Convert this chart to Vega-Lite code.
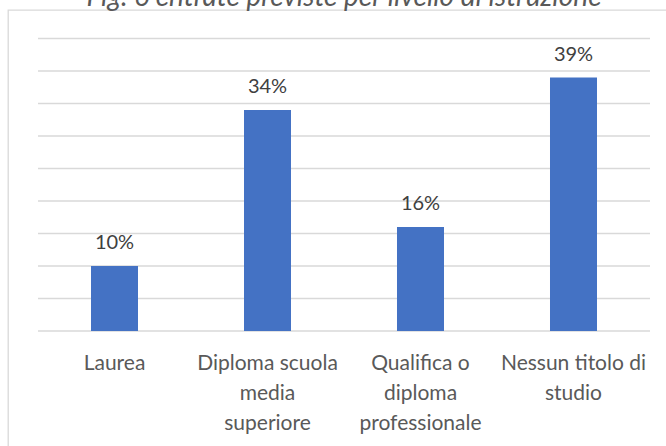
{
  "$schema": "https://vega.github.io/schema/vega-lite/v6.json",
  "autosize": {"type": "none"},
  "width": 672,
  "height": 450,
  "padding": {"left": 8, "top": 10, "right": 0, "bottom": 0},
  "background": "white",
  "config": {"view": {"stroke": "#d9d9d9", "strokeWidth": 1.3}, "font": "Lato"},
  "title": {
    "text": "Fig. 6 entrate previste per livello di istruzione",
    "fontStyle": "italic",
    "fontWeight": "normal",
    "fontSize": 28,
    "color": "#595959",
    "baseline": "alphabetic",
    "offset": 6,
    "anchor": "middle",
    "dx": 0,
    "dy": 30
  },
  "datasets": {
    "bars": [
      {"cat": "Laurea", "value": 0.10},
      {"cat": "Diploma scuola\nmedia\nsuperiore", "value": 0.34},
      {"cat": "Qualifica o\ndiploma\nprofessionale", "value": 0.16},
      {"cat": "Nessun titolo di\nstudio", "value": 0.39}
    ],
    "grid": [
      {"tick": 0}, {"tick": 0.05}, {"tick": 0.10}, {"tick": 0.15}, {"tick": 0.20},
      {"tick": 0.25}, {"tick": 0.30}, {"tick": 0.35}, {"tick": 0.40}, {"tick": 0.45}
    ]
  },
  "layer": [
    {
      "data": {"name": "grid"},
      "mark": {"type": "rule", "color": "#d9d9d9", "strokeWidth": 1.3},
      "encoding": {
        "y": {"field": "tick", "type": "quantitative", "axis": null,
              "scale": {"domain": [-0.19846, 0.49385], "nice": false, "zero": false}},
        "x": {"datum": "Laurea", "type": "nominal", "bandPosition": -1.128,
              "scale": {"domain": ["Laurea", "Diploma scuola\nmedia\nsuperiore", "Qualifica o\ndiploma\nprofessionale", "Nessun titolo di\nstudio"], "paddingInner": 0.6928, "paddingOuter": 0.5425}},
        "x2": {"datum": "Nessun titolo di\nstudio", "bandPosition": 2.128}
      }
    },
    {
      "data": {"name": "bars"},
      "mark": {"type": "bar", "color": "#4472C4"},
      "encoding": {
        "x": {"field": "cat", "type": "nominal", "sort": null,
              "scale": {"domain": ["Laurea", "Diploma scuola\nmedia\nsuperiore", "Qualifica o\ndiploma\nprofessionale", "Nessun titolo di\nstudio"], "paddingInner": 0.6928, "paddingOuter": 0.5425},
              "axis": {"orient": "bottom", "offset": -129, "domain": false, "ticks": false, "labelAngle": 0,
                       "labelAlign": "center",
                       "labelExpr": "split(datum.label, '\\n')", "labelFontSize": 21, "labelColor": "#595959",
                       "labelLineHeight": 30, "labelPadding": 21, "labelBaseline": "top", "labelLimit": 0,
                       "title": null, "grid": false, "labelFont": "Lato"}},
        "y": {"field": "value", "type": "quantitative", "axis": null},
        "y2": {"datum": 0}
      }
    },
    {
      "data": {"name": "bars"},
      "mark": {"type": "text", "dy": -17, "baseline": "alphabetic", "fontSize": 20, "color": "#404040"},
      "encoding": {
        "x": {"field": "cat", "type": "nominal", "sort": null},
        "y": {"field": "value", "type": "quantitative"},
        "text": {"field": "value", "type": "quantitative", "format": ".0%"}
      }
    }
  ]
}
